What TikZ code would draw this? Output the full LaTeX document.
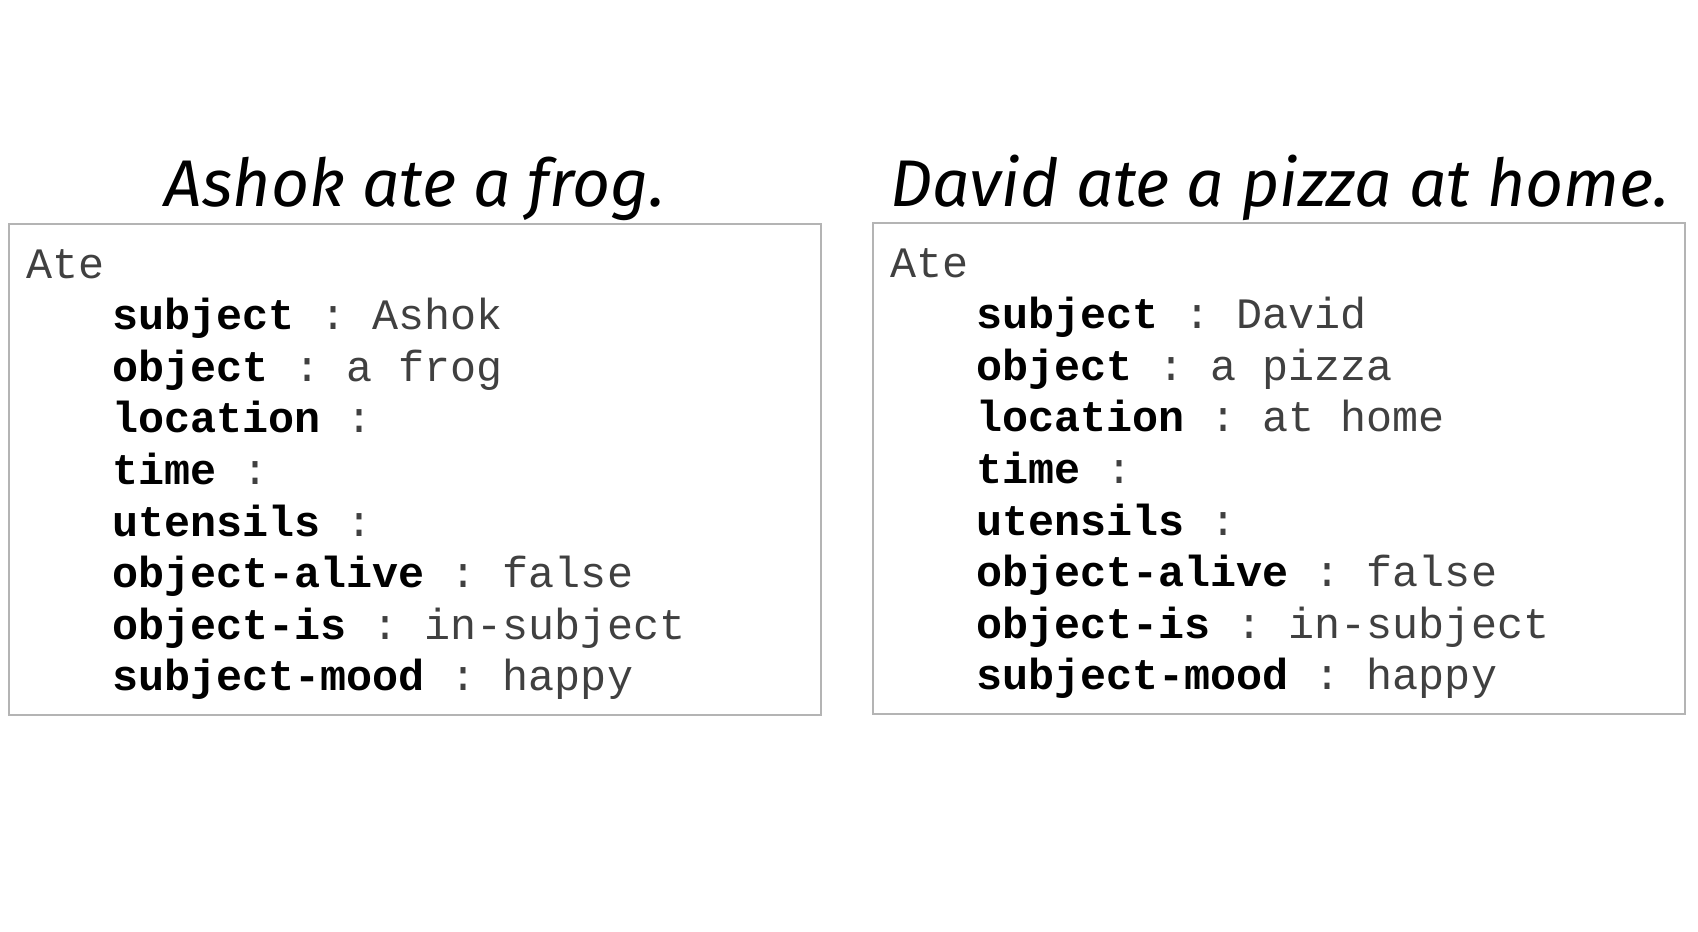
\documentclass[tikz,border=0pt]{standalone}
\usepackage{fontspec}
\setmonofont{Liberation Mono}
\newfontfamily\handfont{Fira Sans}
\definecolor{boxgray}{HTML}{B4B4B4}
\definecolor{valgray}{HTML}{404040}
\tikzset{
  framebox/.style={draw=boxgray, line width=2pt, inner sep=0pt, minimum width=812pt, minimum height=491pt},
  titletext/.style={inner sep=0pt, anchor=base, font=\handfont\itshape\fontsize{66}{72}\selectfont},
  rowtext/.style={inner sep=0pt, anchor=base west, text=valgray, font=\ttfamily\fontsize{43.4}{50}\selectfont},
}
\newcommand{\kv}[2]{\textbf{\color{black}#1} : #2}
\begin{document}
\begin{tikzpicture}[x=1pt,y=-1pt]
\useasboundingbox (0,0) rectangle (1698,932);
% boxes
\node[framebox] (boxL) at (415,469.5) {};
\node[framebox] (boxR) at (1279,468.5) {};
% titles
\node[titletext] (titleL) at (415,206) {Ashok ate a frog.};
\node[titletext] (titleR) at (1280,206) {David ate a pizza at home.};
% left rows
\node[rowtext] (L0) at (26,278) {Ate};
\node[rowtext] (L1) at (112,329.6) {\kv{subject}{Ashok}};
\node[rowtext] (L2) at (112,381.2) {\kv{object}{a frog}};
\node[rowtext] (L3) at (112,432.8) {\kv{location}{}};
\node[rowtext] (L4) at (112,484.4) {\kv{time}{}};
\node[rowtext] (L5) at (112,536) {\kv{utensils}{}};
\node[rowtext] (L6) at (112,587.6) {\kv{object-alive}{false}};
\node[rowtext] (L7) at (112,639.2) {\kv{object-is}{in-subject}};
\node[rowtext] (L8) at (112,690.8) {\kv{subject-mood}{happy}};
% right rows
\node[rowtext] (R0) at (890,277) {Ate};
\node[rowtext] (R1) at (976,328.6) {\kv{subject}{David}};
\node[rowtext] (R2) at (976,380.2) {\kv{object}{a pizza}};
\node[rowtext] (R3) at (976,431.8) {\kv{location}{at home}};
\node[rowtext] (R4) at (976,483.4) {\kv{time}{}};
\node[rowtext] (R5) at (976,535) {\kv{utensils}{}};
\node[rowtext] (R6) at (976,586.6) {\kv{object-alive}{false}};
\node[rowtext] (R7) at (976,638.2) {\kv{object-is}{in-subject}};
\node[rowtext] (R8) at (976,689.8) {\kv{subject-mood}{happy}};
\end{tikzpicture}
\end{document}
